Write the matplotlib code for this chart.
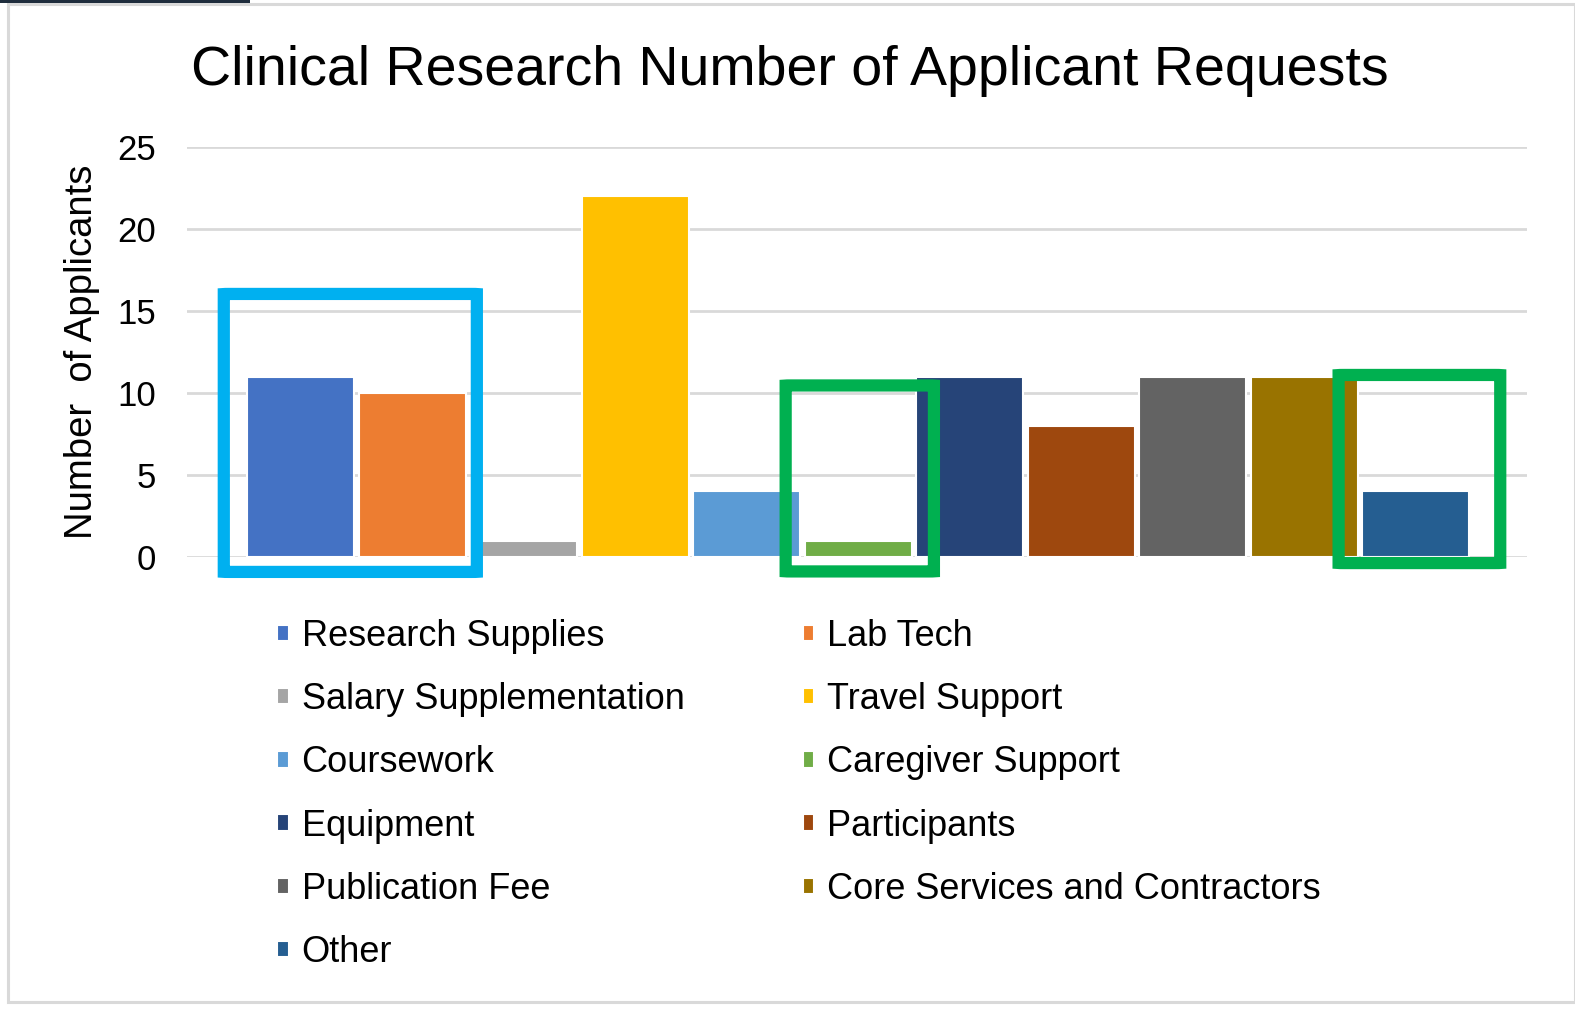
import matplotlib
matplotlib.use("Agg")
import matplotlib.pyplot as plt
from matplotlib.patches import FancyBboxPatch, Rectangle

plt.rcParams['font.family'] = ['Liberation Sans', 'DejaVu Sans']

categories = ["Research Supplies", "Lab Tech", "Salary Supplementation", "Travel Support",
              "Coursework", "Caregiver Support", "Equipment", "Participants",
              "Publication Fee", "Core Services and Contractors", "Other"]
values = [11, 10, 1, 22, 4, 1, 11, 8, 11, 11, 4]
colors = ["#4472C4", "#ED7D31", "#A5A5A5", "#FFC000", "#5B9BD5", "#70AD47",
          "#264478", "#9E480E", "#636363", "#997300", "#255E91"]
yticks = [0, 5, 10, 15, 20, 25]

W, H = 1575, 1016
fig = plt.figure(figsize=(W / 100, H / 100), dpi=100)
fig.patch.set_facecolor("white")

ax = fig.add_axes([187 / W, (H - 557) / H, (1527 - 187) / W, (557 - 147) / H])
handles = []
for i, (c, v, col) in enumerate(zip(categories, values, colors)):
    b = ax.bar(i, v, width=0.96, color=col, edgecolor="white", linewidth=1.5,
               label=c, zorder=3)
    handles.append(b)

ax.set_xlim(-1.02, 11.0)
ax.set_ylim(0, 25)
ax.set_yticks(yticks)
ax.set_yticklabels([str(t) for t in yticks], fontsize=25, color="black")
ax.set_xticks([])
ax.tick_params(axis="y", length=0, pad=22)
ax.yaxis.grid(True, color="#D9D9D9", linewidth=2.0, zorder=0)
ax.set_axisbelow(True)
for s in ax.spines.values():
    s.set_visible(False)

# highlight boxes (annotations)
def hbox(x0, x1, y0, y1, color):
    p = FancyBboxPatch((x0, y0), x1 - x0, y1 - y0,
                       boxstyle="round,pad=0,rounding_size=0.05",
                       fill=False, edgecolor=color, linewidth=8.8,
                       clip_on=False, zorder=5, mutation_aspect=16.4 / 111.2)
    ax.add_patch(p)

hbox(-0.69, 1.58, -0.91, 16.04, "#00B0F0")
hbox(4.35, 5.68, -0.88, 10.46, "#00B050")
hbox(9.31, 10.76, -0.37, 11.10, "#00B050")

# title and y label
fig.text(790 / W, (H - 71) / H, "Clinical Research Number of Applicant Requests",
         fontsize=40, ha="center", va="center", color="black")
fig.text(82 / W, (H - 352) / H, "Number  of Applicants", fontsize=27.5,
         rotation=90, ha="center", va="center", color="black")

# legend (row-major order as in reference)
order = [0, 2, 4, 6, 8, 10, 1, 3, 5, 7, 9]
leg = fig.legend([handles[i] for i in order], [categories[i] for i in order],
                 ncol=2, frameon=False, fontsize=26,
                 loc="upper left", bbox_to_anchor=(277 / W, (H - 619) / H),
                 handlelength=0.32, handleheight=0.32, handletextpad=0.36,
                 labelspacing=0.78, columnspacing=3.28, borderpad=0, borderaxespad=0)
for t in leg.get_texts():
    t.set_color("black")

# frame decorations
fig.add_artist(Rectangle((8 / W, (H - 1002) / H), (W - 8) / W, (1002 - 4) / H,
                         transform=fig.transFigure, fill=False,
                         edgecolor="#D9D9D9", linewidth=2.2))
fig.add_artist(Rectangle((0, (H - 3) / H), 250 / W, 3 / H,
                         transform=fig.transFigure, facecolor="#1F2D3D",
                         edgecolor="none"))

fig.savefig("out.png", dpi=100, facecolor="white")
